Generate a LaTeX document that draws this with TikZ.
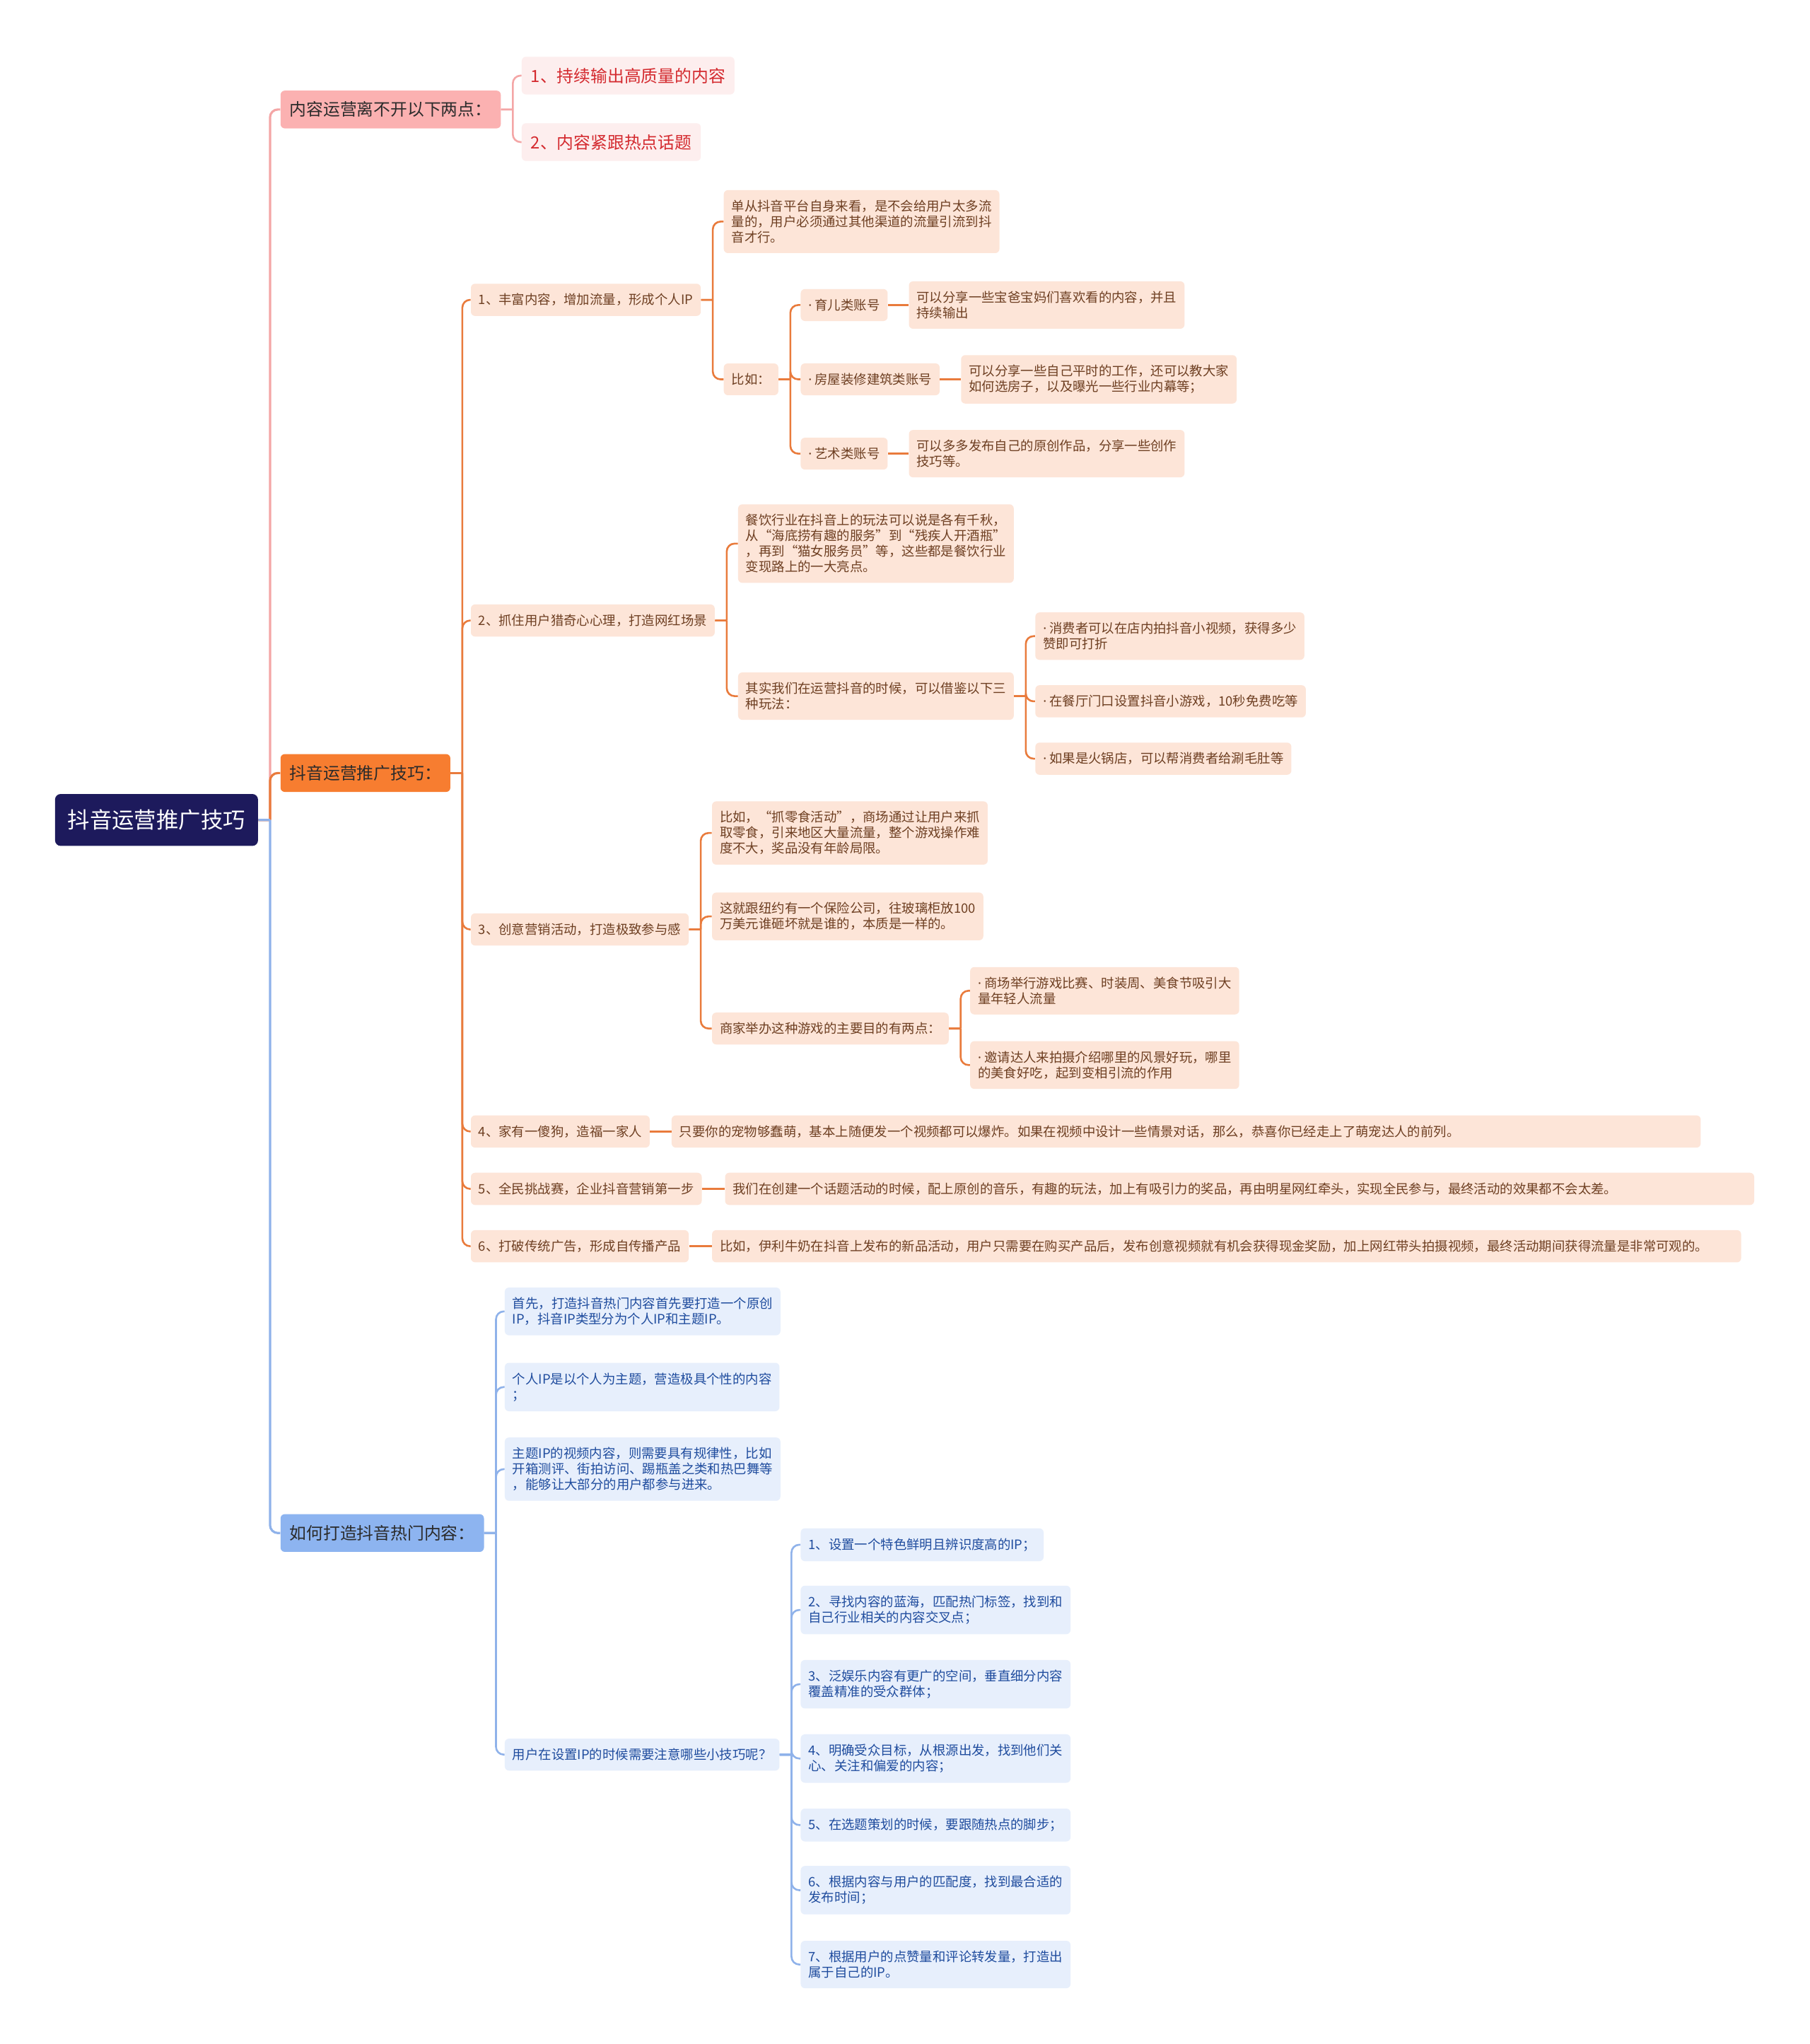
\documentclass[tikz,border=0pt]{standalone}
\usepackage{fontspec}
\newfontfamily\cjk{Noto Sans CJK SC}
\newfontfamily\latinf{Noto Sans}
\newcommand\dotmark{{\latinf ·} }
\definecolor{rootc}{HTML}{1D1A5C}
\definecolor{pinkc}{HTML}{FBB1B1}
\definecolor{pinkl}{HTML}{F4A6A6}
\definecolor{pinkf}{HTML}{FDEEEE}
\definecolor{pinkt}{HTML}{D42A2F}
\definecolor{orac}{HTML}{F77D30}
\definecolor{oral}{HTML}{E97B3C}
\definecolor{oraf}{HTML}{FDE5D8}
\definecolor{orat}{HTML}{6E3F22}
\definecolor{bluec}{HTML}{8DB4F0}
\definecolor{bluel}{HTML}{8FB2EA}
\definecolor{bluef}{HTML}{E7EFFC}
\definecolor{bluet}{HTML}{1F4C9E}
\definecolor{darkt}{HTML}{2B2B2B}
\begin{document}
\begin{tikzpicture}[x=0.9222pt, y=-0.9222pt,
    box/.style={rounded corners=3pt, anchor=west, align=left, inner xsep=5.5pt, inner ysep=7pt,
        font=\cjk\fontsize{9.2pt}{11pt}\selectfont},
    rootbox/.style={box, fill=rootc, text=white, rounded corners=4pt, inner xsep=9pt, inner ysep=11pt,
        font=\cjk\fontsize{15.7pt}{18pt}\selectfont},
    topic/.style={box, inner xsep=6.5pt, inner ysep=7.8pt, font=\cjk\fontsize{11.9pt}{14pt}\selectfont},
    pinkmain/.style={topic, fill=pinkc, text=darkt},
    pinkleaf/.style={topic, fill=pinkf, text=pinkt},
    oramain/.style={topic, fill=orac, text=darkt},
    oraleaf/.style={box, fill=oraf, text=orat},
    bluemain/.style={topic, fill=bluec, text=darkt},
    blueleaf/.style={box, fill=bluef, text=bluet},
    wide/.style={text width=717pt},
    pline/.style={draw=pinkl, line width=1.3pt},
    oline/.style={draw=oral, line width=1.3pt},
    bline/.style={draw=bluel, line width=1.3pt},
    fork/.style={rounded corners=5.5pt, to path={-- ++(9,0) ++(0,0) |- (\tikztotarget)}}]

    \useasboundingbox (0,0) rectangle (1388,1568);
    \fill[white] (0,0) rectangle (1388,1568);

    % root and main topics
    \node[rootbox] (root) at (42,629) {抖音运营推广技巧};
    \node[pinkmain] (tA) at (215,84) {内容运营离不开以下两点：};
    \node[oramain] (tB) at (215,593) {抖音运营推广技巧：};
    \node[bluemain] (tC) at (215,1176) {如何打造抖音热门内容：};

    % pink branch
    \node[pinkleaf] (A1) at (400,58) {1、持续输出高质量的内容};
    \node[pinkleaf] (A2) at (400,109) {2、内容紧跟热点话题};

    % orange branch
    \node[oraleaf] (B1) at (361,230) {1、丰富内容，增加流量，形成个人IP};
    \node[oraleaf] (B2) at (361,476) {2、抓住用户猎奇心心理，打造网红场景};
    \node[oraleaf] (B3) at (361,713) {3、创意营销活动，打造极致参与感};
    \node[oraleaf] (B4) at (361,868) {4、家有一傻狗，造福一家人};
    \node[oraleaf] (B5) at (361,912) {5、全民挑战赛，企业抖音营销第一步};
    \node[oraleaf] (B6) at (361,956) {6、打破传统广告，形成自传播产品};

    \node[oraleaf] (B1a) at (555,170) {单从抖音平台自身来看，是不会给用户太多流\\量的，用户必须通过其他渠道的流量引流到抖\\音才行。};
    \node[oraleaf] (B1b) at (555,291) {比如：};
    \node[oraleaf] (kid) at (614,234) {\dotmark 育儿类账号};
    \node[oraleaf] (kidx) at (697,234) {可以分享一些宝爸宝妈们喜欢看的内容，并且\\持续输出};
    \node[oraleaf] (house) at (614,291) {\dotmark 房屋装修建筑类账号};
    \node[oraleaf] (housex) at (737,291) {可以分享一些自己平时的工作，还可以教大家\\如何选房子，以及曝光一些行业内幕等；};
    \node[oraleaf] (art) at (614,348) {\dotmark 艺术类账号};
    \node[oraleaf] (artx) at (697,348) {可以多多发布自己的原创作品，分享一些创作\\技巧等。};

    \node[oraleaf] (B2a) at (566,417) {餐饮行业在抖音上的玩法可以说是各有千秋，\\从“海底捞有趣的服务”到“残疾人开酒瓶”\\，再到“猫女服务员”等，这些都是餐饮行业\\变现路上的一大亮点。};
    \node[oraleaf] (B2b) at (566,534) {其实我们在运营抖音的时候，可以借鉴以下三\\种玩法：};
    \node[oraleaf] (B2b1) at (794,488) {\dotmark 消费者可以在店内拍抖音小视频，获得多少\\赞即可打折};
    \node[oraleaf] (B2b2) at (794,538) {\dotmark 在餐厅门口设置抖音小游戏，10秒免费吃等};
    \node[oraleaf] (B2b3) at (794,582) {\dotmark 如果是火锅店，可以帮消费者给涮毛肚等};

    \node[oraleaf] (B3a) at (546,639) {比如，“抓零食活动”，商场通过让用户来抓\\取零食，引来地区大量流量，整个游戏操作难\\度不大，奖品没有年龄局限。};
    \node[oraleaf] (B3b) at (546,703) {这就跟纽约有一个保险公司，往玻璃柜放100\\万美元谁砸坏就是谁的，本质是一样的。};
    \node[oraleaf] (B3c) at (546,789) {商家举办这种游戏的主要目的有两点：};
    \node[oraleaf] (B3c1) at (744,760) {\dotmark 商场举行游戏比赛、时装周、美食节吸引大\\量年轻人流量};
    \node[oraleaf] (B3c2) at (744,817) {\dotmark 邀请达人来拍摄介绍哪里的风景好玩，哪里\\的美食好吃，起到变相引流的作用};

    \node[oraleaf, wide] (B4a) at (515,868) {只要你的宠物够蠢萌，基本上随便发一个视频都可以爆炸。如果在视频中设计一些情景对话，那么，恭喜你已经走上了萌宠达人的前列。};
    \node[oraleaf, wide] (B5a) at (556,912) {我们在创建一个话题活动的时候，配上原创的音乐，有趣的玩法，加上有吸引力的奖品，再由明星网红牵头，实现全民参与，最终活动的效果都不会太差。};
    \node[oraleaf, wide] (B6a) at (546,956) {比如，伊利牛奶在抖音上发布的新品活动，用户只需要在购买产品后，发布创意视频就有机会获得现金奖励，加上网红带头拍摄视频，最终活动期间获得流量是非常可观的。};

    % blue branch
    \node[blueleaf] (C1) at (387,1006) {首先，打造抖音热门内容首先要打造一个原创\\IP，抖音IP类型分为个人IP和主题IP。};
    \node[blueleaf] (C2) at (387,1064) {个人IP是以个人为主题，营造极具个性的内容\\；};
    \node[blueleaf] (C3) at (387,1127) {主题IP的视频内容，则需要具有规律性，比如\\开箱测评、街拍访问、踢瓶盖之类和热巴舞等\\，能够让大部分的用户都参与进来。};
    \node[blueleaf] (C4) at (387,1346) {用户在设置IP的时候需要注意哪些小技巧呢？};
    \node[blueleaf] (tip1) at (614,1185) {1、设置一个特色鲜明且辨识度高的IP；};
    \node[blueleaf] (tip2) at (614,1235) {2、寻找内容的蓝海，匹配热门标签，找到和\\自己行业相关的内容交叉点；};
    \node[blueleaf] (tip3) at (614,1292) {3、泛娱乐内容有更广的空间，垂直细分内容\\覆盖精准的受众群体；};
    \node[blueleaf] (tip4) at (614,1349) {4、明确受众目标，从根源出发，找到他们关\\心、关注和偏爱的内容；};
    \node[blueleaf] (tip5) at (614,1400) {5、在选题策划的时候，要跟随热点的脚步；};
    \node[blueleaf] (tip6) at (614,1450) {6、根据内容与用户的匹配度，找到最合适的\\发布时间；};
    \node[blueleaf] (tip7) at (614,1507) {7、根据用户的点赞量和评论转发量，打造出\\属于自己的IP。};

    % connectors
    \path[pline, line width=1.6pt] (root.east) edge[fork] (tA.west);
    \path[oline, line width=1.6pt] (root.east) edge[fork] (tB.west);
    \path[bline, line width=1.6pt] (root.east) edge[fork] (tC.west);

    \path[pline] (tA.east) edge[fork] (A1.west) edge[fork] (A2.west);

    \path[oline] (tB.east) edge[fork] (B1.west) edge[fork] (B2.west) edge[fork] (B3.west)
        edge[fork] (B4.west) edge[fork] (B5.west) edge[fork] (B6.west);
    \path[oline] (B1.east) edge[fork] (B1a.west) edge[fork] (B1b.west);
    \path[oline] (B1b.east) edge[fork] (kid.west) edge[fork] (house.west) edge[fork] (art.west);
    \path[oline] (kid.east) edge (kidx.west);
    \path[oline] (house.east) edge (housex.west);
    \path[oline] (art.east) edge (artx.west);
    \path[oline] (B2.east) edge[fork] (B2a.west) edge[fork] (B2b.west);
    \path[oline] (B2b.east) edge[fork] (B2b1.west) edge[fork] (B2b2.west) edge[fork] (B2b3.west);
    \path[oline] (B3.east) edge[fork] (B3a.west) edge[fork] (B3b.west) edge[fork] (B3c.west);
    \path[oline] (B3c.east) edge[fork] (B3c1.west) edge[fork] (B3c2.west);
    \path[oline] (B4.east) edge (B4a.west);
    \path[oline] (B5.east) edge (B5a.west);
    \path[oline] (B6.east) edge (B6a.west);

    \path[bline] (tC.east) edge[fork] (C1.west) edge[fork] (C2.west) edge[fork] (C3.west) edge[fork] (C4.west);
    \path[bline] (C4.east) edge[fork] (tip1.west) edge[fork] (tip2.west) edge[fork] (tip3.west)
        edge[fork] (tip4.west) edge[fork] (tip5.west) edge[fork] (tip6.west) edge[fork] (tip7.west);
\end{tikzpicture}
\end{document}
